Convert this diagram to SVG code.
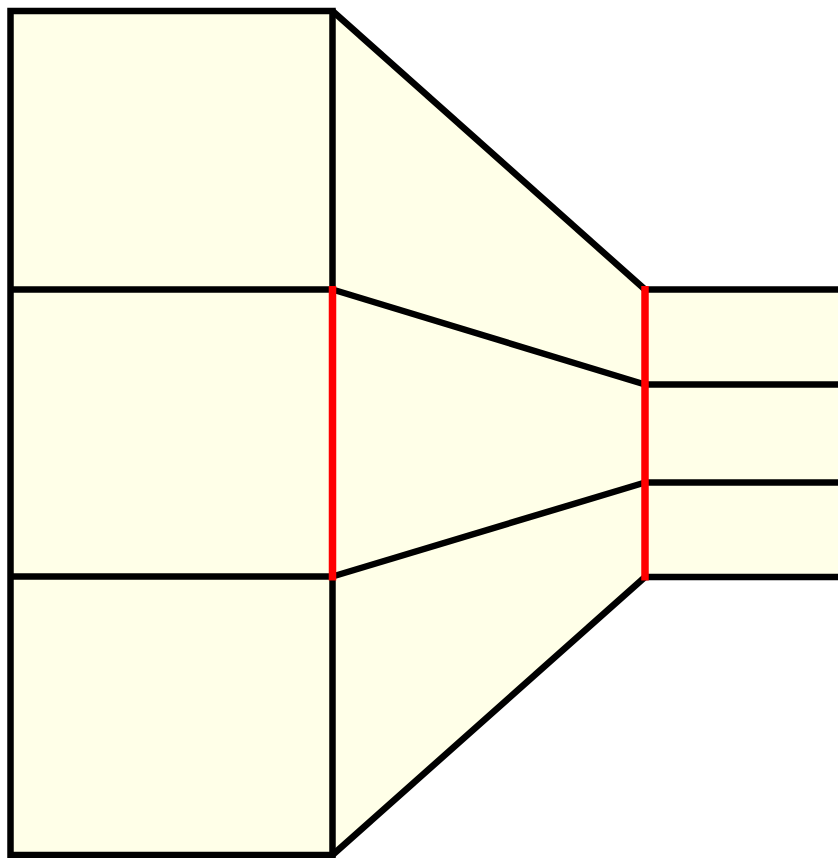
<svg xmlns="http://www.w3.org/2000/svg" width="838" height="858" viewBox="0 0 838 858">
<style>
.f{fill:#ffffe8;stroke:none}
.k{fill:none;stroke:#000;stroke-width:6.5;stroke-linejoin:miter;stroke-linecap:butt}
.r{fill:none;stroke:#ff0000;stroke-width:7.5;stroke-linecap:butt}
</style>
<rect width="838" height="858" fill="#ffffff"/>
<g id="taper">
<polygon class="f" points="332.5,11 645,289 645,577 332.5,855"/>
<polyline class="k" points="332.5,11 645,289.5"/>
<polyline class="k" points="332.5,855 645,577"/>
<line class="k" x1="332.5" y1="289.5" x2="645" y2="384.5"/>
<line class="k" x1="332.5" y1="576.5" x2="645" y2="482.5"/>
</g>
<g id="left-column">
<rect class="f" x="10.5" y="11" width="322" height="844"/>
<rect class="k" x="10.5" y="11" width="322" height="844"/>
<line class="k" x1="10.5" y1="289.5" x2="332.5" y2="289.5"/>
<line class="k" x1="10.5" y1="576.5" x2="332.5" y2="576.5"/>
</g>
<g id="right-strip">
<rect class="f" x="648" y="289.5" width="190" height="288"/>
<line class="k" x1="645" y1="289.5" x2="838" y2="289.5"/>
<line class="k" x1="645" y1="384.5" x2="838" y2="384.5"/>
<line class="k" x1="645" y1="482.5" x2="838" y2="482.5"/>
<line class="k" x1="645" y1="577" x2="838" y2="577"/>
</g>
<g id="connectors">
<line class="r" x1="332.5" y1="286" x2="332.5" y2="580.5"/>
<line class="r" x1="645" y1="286" x2="645" y2="580.5"/>
</g>
</svg>
